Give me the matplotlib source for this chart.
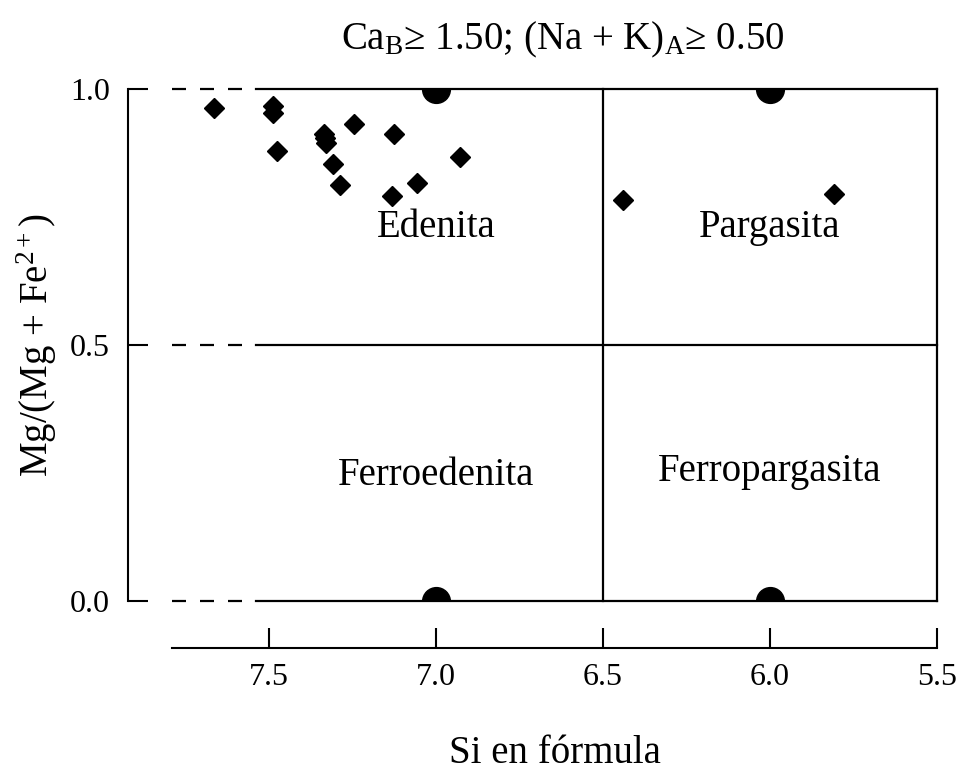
import matplotlib
matplotlib.use('Agg')
import matplotlib.pyplot as plt

plt.rcParams['font.family'] = ['Liberation Serif', 'DejaVu Serif']
plt.rcParams['mathtext.fontset'] = 'custom'
plt.rcParams['mathtext.rm'] = 'Liberation Serif'
plt.rcParams['mathtext.it'] = 'Liberation Serif:italic'

# sample analyses (Si a.p.f.u., Mg/(Mg+Fe2+))
si = [7.665, 7.487, 7.487, 7.477, 7.335, 7.332, 7.329, 7.245, 7.309,
      7.287, 7.125, 7.131, 7.056, 6.928, 6.439, 5.807]
mg = [0.962, 0.967, 0.953, 0.878, 0.912, 0.904, 0.895, 0.932, 0.853,
      0.8125, 0.912, 0.791, 0.816, 0.868, 0.783, 0.795]

# reference end-member points on the diagram border
ref_si = [7.0, 6.0, 7.0, 6.0]
ref_mg = [1.0, 1.0, 0.0, 0.0]

fields = ['Edenita', 'Pargasita', 'Ferroedenita', 'Ferropargasita']
field_x = [7.0, 6.0, 7.0, 6.0]
field_y = [0.73, 0.73, 0.245, 0.253]

xticks = [7.5, 7.0, 6.5, 6.0, 5.5]
yticks = [0.0, 0.5, 1.0]
box_left = 7.54
x_min, x_max = 7.79, 5.5

fig = plt.figure(figsize=(9.56, 7.72), dpi=100)
ax = fig.add_axes([172 / 956, 171 / 772, 765 / 956, 512 / 772])
ax.set_xlim(x_min, x_max)
ax.set_ylim(0, 1)

lw = 1.6
for y in yticks:
    ax.plot([x_min, box_left], [y, y], color='black', lw=lw,
            linestyle=(0, (6.3, 6.3)), clip_on=False)
for y in yticks:
    ax.plot([box_left, 5.5], [y, y], color='black', lw=lw, clip_on=False)
ax.plot([6.5, 6.5], [0, 1], color='black', lw=lw, clip_on=False)
ax.plot([5.5, 5.5], [0, 1], color='black', lw=lw, clip_on=False)

ax.plot(ref_si, ref_mg, 'o', color='black', markersize=20, clip_on=True)
ax.plot(si, mg, 'D', color='black', markersize=10.5, clip_on=False)

for name, fx, fy in zip(fields, field_x, field_y):
    ax.text(fx, fy, name, fontsize=28, ha='center', va='center')

for side in ['top', 'right']:
    ax.spines[side].set_visible(False)
ax.spines['left'].set_position(('outward', 31.7))
ax.spines['bottom'].set_position(('outward', 33.8))
ax.spines['left'].set_linewidth(1.5)
ax.spines['bottom'].set_linewidth(1.5)

ax.set_xticks(xticks)
ax.set_xticklabels(['%.1f' % t for t in xticks])
ax.set_yticks(yticks)
ax.set_yticklabels(['%.1f' % t for t in yticks])
ax.tick_params(axis='both', direction='in', length=14.4, width=1.5,
               labelsize=23)
ax.tick_params(axis='x', pad=11)
ax.tick_params(axis='y', pad=13)

ax.set_xlabel('Si en fórmula', fontsize=28, labelpad=31)
ax.set_ylabel(r'Mg/(Mg + Fe$^{2+}$)', fontsize=28, labelpad=8)
fig.text(563 / 956, 1 - 40 / 772,
         r'Ca$_\mathrm{B}$≥ 1.50; (Na + K)$_\mathrm{A}$≥ 0.50',
         fontsize=28, ha='center', va='center')

fig.savefig('out.png', dpi=100)
